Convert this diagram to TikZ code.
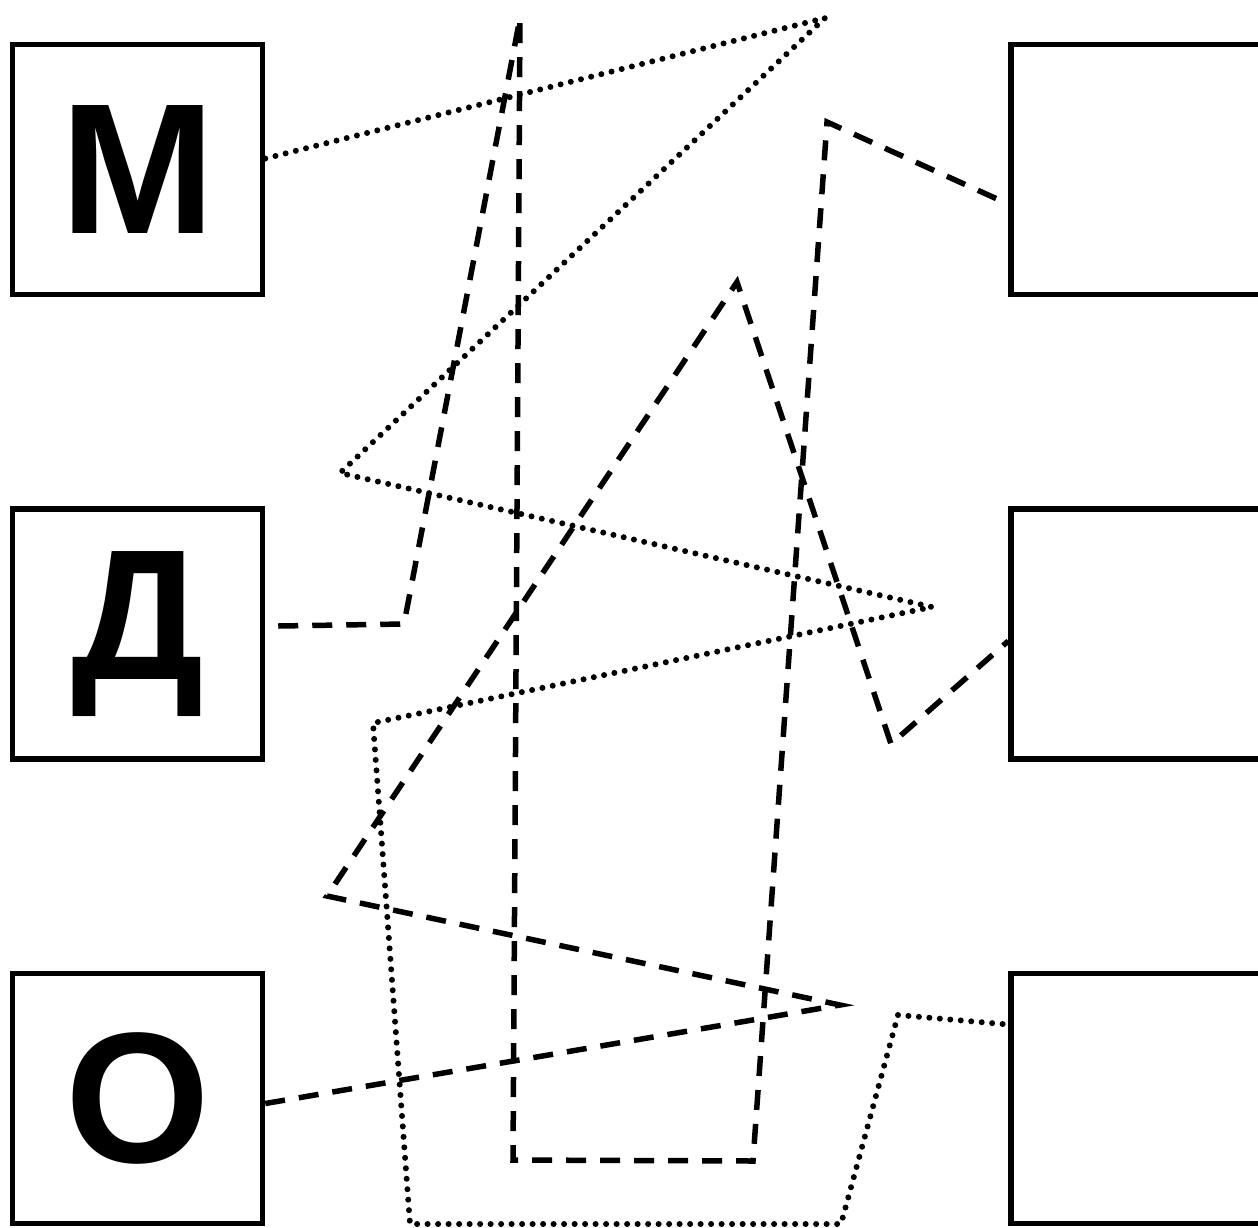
\documentclass[tikz,border=0pt]{standalone}
\usepackage{fontspec}
\setsansfont{Liberation Sans}
\usepackage{tikz}
\usetikzlibrary{calc,positioning}

\begin{document}
\begin{tikzpicture}[x=1pt,y=-1pt,node distance=209pt and 743pt,
  lbox/.style={draw,line width=5.5pt,minimum width=250pt,minimum height=250pt,inner sep=0pt,
               font=\sffamily\bfseries\fontsize{186}{186}\selectfont},
  dotline/.style={line width=6pt,line cap=round,dash pattern=on 0pt off 10.5pt},
  dashline/.style={line width=5.5pt,dash pattern=on 20pt off 14pt}]
  \useasboundingbox (0,0) rectangle (1258,1227);
  \node[lbox] (m) at (137.5,169.5) {М};
  \node[lbox,below=of m] (d) {Д};
  \node[lbox,below=of d] (o) {О};
  \foreach \l/\r in {m/r1,d/r2,o/r3} \node[lbox,right=of \l] (\r) {};
  \draw[dotline] ($(m.east)+(0,-11)$) -- (825,18) -- (340,473) -- (932,607) -- (373,723)
    -- (410,1224) -- (841,1224) -- (898,1015) -- ($(r3.west)+(0,-74)$);
  \draw[dashline] ($(d.east)+(13,-8)$) -- (404,624) -- (520,18) -- (513,1160) -- (753,1161)
    -- (827,122) -- ($(r1.west)+(-10,30)$);
  \draw[dashline] ($(o.east)+(0,5)$) -- (840,1005) -- (327,896) -- (737,282) -- (891,744)
    -- ($(r2.west)+(0,7)$);
\end{tikzpicture}
\end{document}
